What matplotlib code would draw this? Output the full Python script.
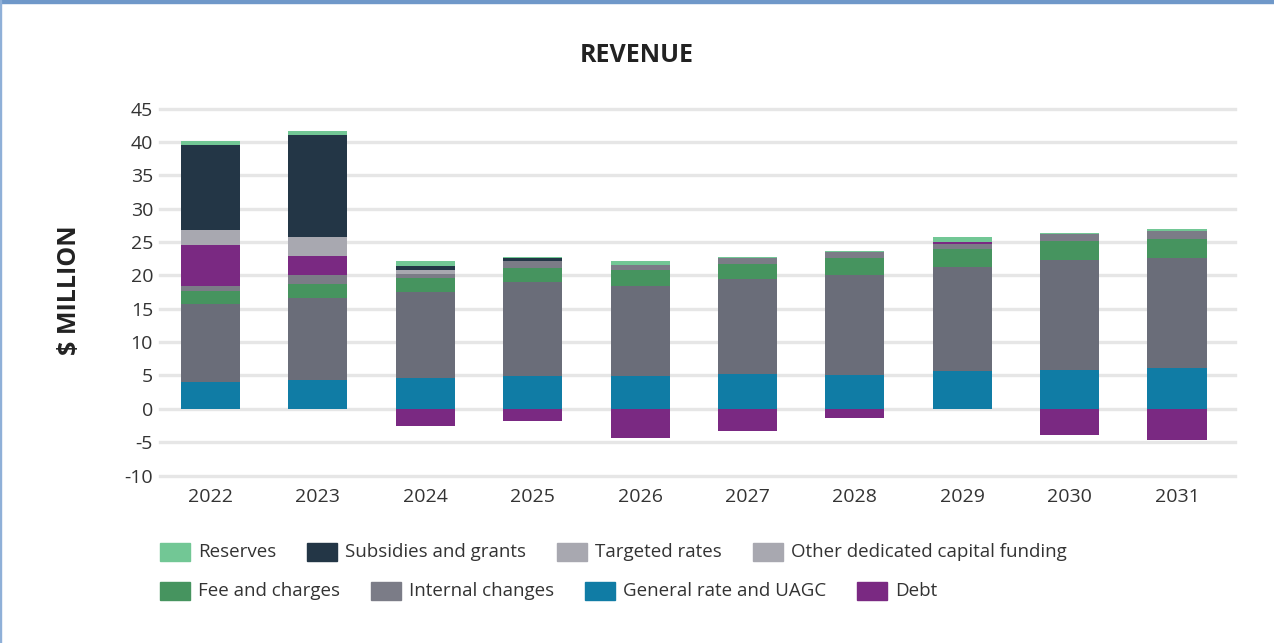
import numpy as np
import matplotlib
matplotlib.use("Agg")
import matplotlib.pyplot as plt
from matplotlib.patches import Rectangle

plt.rcParams['font.family'] = ['Open Sans', 'DejaVu Sans']
plt.rcParams['axes.unicode_minus'] = False

# ---- data ($ million) ----
years = ["2022", "2023", "2024", "2025", "2026", "2027", "2028", "2029", "2030", "2031"]
general_rate = [4.0, 4.3, 4.55, 4.85, 4.85, 5.15, 5.0, 5.6, 5.75, 6.05]
internal_changes = [11.7, 12.3, 12.9, 14.1, 13.5, 14.25, 15.0, 15.65, 16.5, 16.5]
fees_charges = [2.0, 2.1, 2.1, 2.1, 2.4, 2.25, 2.55, 2.7, 2.85, 2.85]
other_dedicated = [0.7, 1.35, 0.6, 1.05, 0.75, 0.9, 0.9, 0.75, 1.05, 1.2]
debt = [6.2, 2.85, -2.65, -1.9, -4.45, -3.3, -1.45, 0.3, -4.0, -4.75]
targeted_rates = [2.25, 2.9, 0.6, 0.0, 0.0, 0.0, 0.0, 0.0, 0.0, 0.0]
subsidies_grants = [12.65, 15.2, 0.6, 0.45, 0.0, 0.0, 0.0, 0.0, 0.0, 0.0]
reserves = [0.6, 0.6, 0.75, 0.15, 0.6, 0.15, 0.15, 0.7, 0.15, 0.3]

# stacking order, bottom to top
stack = [
    (general_rate, "#107ca5"),
    (internal_changes, "#6a6d79"),
    (fees_charges, "#46945f"),
    (other_dedicated, "#7b7c87"),
    (debt, "#7a2982"),
    (targeted_rates, "#a8a8b0"),
    (subsidies_grants, "#233646"),
    (reserves, "#72c795"),
]

legend_rows = [
    [("Reserves", "#72c795"), ("Subsidies and grants", "#233646"),
     ("Targeted rates", "#a8a8b0"), ("Other dedicated capital funding", "#a8a8b0")],
    [("Fee and charges", "#46945f"), ("Internal changes", "#7b7c87"),
     ("General rate and UAGC", "#107ca5"), ("Debt", "#7a2982")],
]

W, H = 1274, 643
fig = plt.figure(figsize=(W / 100, H / 100), dpi=100)
ax = fig.add_axes([160 / W, 1 - 475.5 / H, 1075 / W, 367 / H])

x = np.arange(len(years))
pos_base = np.zeros(len(years))
neg_base = np.zeros(len(years))
for vals, col in stack:
    v = np.asarray(vals, dtype=float)
    pos = np.where(v > 0, v, 0)
    neg = np.where(v < 0, v, 0)
    ax.bar(x, pos, bottom=pos_base, width=0.55, color=col, linewidth=0, zorder=3)
    if np.any(neg):
        ax.bar(x, neg, bottom=neg_base, width=0.55, color=col, linewidth=0, zorder=3)
    pos_base += pos
    neg_base += neg

ax.set_xlim(-0.47, 9.54)
ax.set_ylim(-10, 45)
ax.set_yticks(np.arange(-10, 46, 5))
ax.set_xticks(x)
ax.set_xticklabels(years)
for s in ax.spines.values():
    s.set_visible(False)
ax.grid(axis='y', color='#e6e6e6', linewidth=2.4, zorder=0)
ax.set_axisbelow(True)
for gl in ax.get_ygridlines():
    gl.set_clip_on(False)
ax.tick_params(axis='both', length=0, labelsize=14, colors='#333333')
ax.tick_params(axis='y', pad=5)
ax.tick_params(axis='x', pad=9)

fig.text(70 / W, 1 - 290 / H, "$ MILLION", ha='center', va='center', rotation=90,
         fontsize=18, fontweight='bold', color='#222222')
fig.text(0.5, 1 - 55 / H, "REVENUE", ha='center', va='center',
         fontsize=18, fontweight='bold', color='#222222')

# legend drawn as a flowing row layout
fig.canvas.draw()
renderer = fig.canvas.get_renderer()
row_y = [552, 591]
for row, yc in zip(legend_rows, row_y):
    xp = 160
    for label, col in row:
        fig.patches.append(Rectangle((xp / W, 1 - (yc + 9) / H), 30 / W, 18 / H,
                                     transform=fig.transFigure, color=col))
        t = fig.text((xp + 38) / W, 1 - yc / H, label, ha='left', va='center',
                     fontsize=13.5, color='#333333')
        bb = t.get_window_extent(renderer)
        xp = bb.x1 + 31

# frame accents on top and left edges
fig.patches.append(Rectangle((0, 1 - 2.5 / H), 1, 2.5 / H, transform=fig.transFigure,
                             color='#6f98c9'))
fig.patches.append(Rectangle((0, 0), 1.2 / W, 1, transform=fig.transFigure,
                             color='#8fb0d8'))

fig.savefig("out.png", dpi=100)
